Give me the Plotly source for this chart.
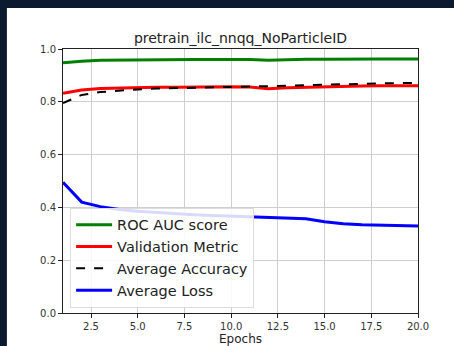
import plotly.graph_objects as go

epochs = list(range(1, 21))
roc_auc = [0.948, 0.954, 0.957, 0.958, 0.959, 0.959, 0.960, 0.960, 0.960, 0.961, 0.960, 0.957, 0.960, 0.961, 0.961, 0.962, 0.962, 0.962, 0.962, 0.962]
val_metric = [0.832, 0.845, 0.850, 0.852, 0.854, 0.855, 0.855, 0.856, 0.856, 0.857, 0.856, 0.849, 0.853, 0.855, 0.858, 0.859, 0.860, 0.861, 0.861, 0.861]
avg_acc = [0.795, 0.826, 0.837, 0.843, 0.847, 0.850, 0.852, 0.854, 0.855, 0.857, 0.858, 0.859, 0.861, 0.863, 0.866, 0.868, 0.869, 0.870, 0.871, 0.871]
avg_loss = [0.495, 0.420, 0.403, 0.392, 0.385, 0.380, 0.376, 0.372, 0.369, 0.367, 0.365, 0.363, 0.361, 0.357, 0.346, 0.338, 0.334, 0.332, 0.331, 0.330]

x_ticks = [2.5, 5.0, 7.5, 10.0, 12.5, 15.0, 17.5, 20.0]
x_tick_labels = ["2.5", "5.0", "7.5", "10.0", "12.5", "15.0", "17.5", "20.0"]
y_ticks = [0.0, 0.2, 0.4, 0.6, 0.8, 1.0]
y_tick_labels = ["0.0", "0.2", "0.4", "0.6", "0.8", "1.0"]

fig = go.Figure()
fig.add_trace(go.Scatter(x=epochs, y=roc_auc, mode="lines", name="ROC AUC score",
                         line=dict(color="green", width=3)))
fig.add_trace(go.Scatter(x=epochs, y=val_metric, mode="lines", name="Validation Metric",
                         line=dict(color="red", width=3)))
fig.add_trace(go.Scatter(x=epochs, y=avg_acc, mode="lines", name="Average Accuracy",
                         line=dict(color="black", width=2, dash="dash")))
fig.add_trace(go.Scatter(x=epochs, y=avg_loss, mode="lines", name="Average Loss",
                         line=dict(color="blue", width=3)))

dark = "#0b1a2e"
# dark frame strips (top and left), kept inside the figure bounds
fig.add_shape(type="rect", xref="paper", yref="paper", x0=-0.1775, x1=1.1014, y0=1.155, y1=1.1856,
              fillcolor=dark, line=dict(width=0), layer="below")
fig.add_shape(type="rect", xref="paper", yref="paper", x0=-0.1775, x1=-0.158, y0=-0.125, y1=1.1856,
              fillcolor=dark, line=dict(width=0), layer="below")

axis_common = dict(showline=True, linecolor="#222", linewidth=1, mirror=True,
                   ticks="outside", ticklen=4, tickcolor="#222", automargin=False,
                   showgrid=True, gridcolor="#cfcfcf", gridwidth=1, zeroline=False,
                   tickfont=dict(family="DejaVu Sans", size=10, color="#333"))

fig.update_layout(
    width=454, height=346,
    margin=dict(l=63, r=36, t=49, b=33),
    paper_bgcolor="white",
    plot_bgcolor="white",
    title=dict(text="pretrain_ilc_nnqq_NoParticleID", x=(240.5 / 454), xanchor="center",
               y=1 - 38 / 346, yanchor="middle",
               font=dict(family="DejaVu Sans", size=14, color="#222")),
    xaxis=dict(range=[1, 20], tickvals=x_ticks, ticktext=x_tick_labels,
               title=dict(text="Epochs", standoff=3,
                          font=dict(family="DejaVu Sans", size=12, color="#222")),
               **axis_common),
    yaxis=dict(range=[0, 1.0], tickvals=y_ticks, ticktext=y_tick_labels, **axis_common),
    legend=dict(x=0.02, y=0.02, xanchor="left", yanchor="bottom",
                bgcolor="rgba(255,255,255,0.85)", bordercolor="#dddddd", borderwidth=1,
                font=dict(family="DejaVu Sans", size=14.5, color="#222"),
                itemwidth=36, tracegroupgap=0),
    showlegend=True,
)

fig.write_html("out.html", config={"displayModeBar": False},
               post_script=("document.documentElement.style.background='white';"
                            "document.body.style.background='white';"
                            "document.body.style.margin='0';document.body.style.overflow='hidden';"))
